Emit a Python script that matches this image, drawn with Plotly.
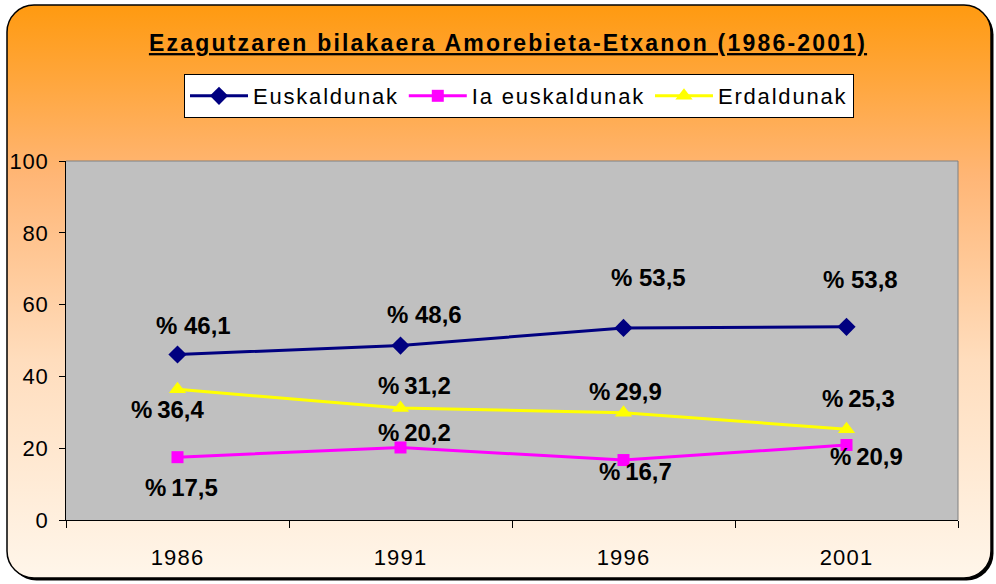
import base64
import plotly.graph_objects as go

# ---- data ----
years = ["1986", "1991", "1996", "2001"]
euskaldunak = [46.1, 48.6, 53.5, 53.8]
ia_euskaldunak = [17.5, 20.2, 16.7, 20.9]
erdaldunak = [36.4, 31.2, 29.9, 25.3]
series_names = ["Euskaldunak", "Ia euskaldunak", "Erdaldunak"]
y_ticks = [0, 20, 40, 60, 80, 100]
title_text = "Ezagutzaren bilakaera Amorebieta-Etxanon (1986-2001)"

# ---- styling ----
W, H = 996, 584
ML, MR, MT, MB = 66, 38, 161, 64
PW, PH = W - ML - MR, H - MT - MB
FONT = "Liberation Sans, Arial, sans-serif"

colors = ["#000080", "#FF00FF", "#FFFF00"]
symbols = ["diamond", "square", "triangle-up"]
msizes = [14, 12, 15]
label_prefix = ["% ", "%\u2009", "%\u2009"]
# label offsets (px) per series/point
label_shift = [
    [(16, 29), (24, 31), (25, 50), (14, 47)],
    [(4, -30), (14, 15), (12, -11), (20, -12)],
    [(-10, -20), (14, 22), (2, 21), (12, 31)],
]

def spaced(s, px):
    return f"<span style='letter-spacing:{px}px'>{s}</span>"

svg = f"""<svg xmlns='http://www.w3.org/2000/svg' width='{W}' height='{H}' viewBox='0 0 {W} {H}'>
<defs><linearGradient id='g' x1='0' y1='0' x2='0' y2='1'>
<stop offset='0' stop-color='#FF9A10'/>
<stop offset='0.3' stop-color='#FFB676'/>
<stop offset='0.62' stop-color='#FFDDBD'/>
<stop offset='1' stop-color='#FFF6EA'/>
</linearGradient></defs>
<rect x='9.5' y='7.5' width='984' height='573' rx='27' ry='27' fill='#000'/>
<rect x='7' y='5' width='984' height='573' rx='27' ry='27' fill='url(#g)' stroke='#000' stroke-width='1.5'/>
<rect x='{ML}' y='{MT}' width='{PW}' height='{PH}' fill='#C0C0C0'/>
</svg>"""
img_src = "data:image/svg+xml;base64," + base64.b64encode(svg.encode()).decode()

fig = go.Figure()
all_series = [euskaldunak, ia_euskaldunak, erdaldunak]
for i, (name, vals) in enumerate(zip(series_names, all_series)):
    fig.add_trace(go.Scatter(
        x=years, y=vals, name=spaced(name, 1.8), mode="lines+markers",
        line=dict(color=colors[i], width=3),
        marker=dict(symbol=symbols[i], size=msizes[i], color=colors[i]),
        hoverinfo="skip",
    ))

annotations = []
for i, vals in enumerate(all_series):
    for j, v in enumerate(vals):
        dx, dy = label_shift[i][j]
        annotations.append(dict(
            x=j, y=v, xref="x", yref="y",
            text="<b>" + label_prefix[i] + f"{v:.1f}".replace(".", ",") + "</b>",
            showarrow=False, xshift=dx, yshift=dy,
            xanchor="center", yanchor="middle",
            font=dict(family=FONT, size=24, color="#000"),
        ))

fig.update_layout(
    width=W, height=H,
    margin=dict(l=ML, r=MR, t=MT, b=MB, pad=0, autoexpand=False),
    paper_bgcolor="white",
    plot_bgcolor="#C0C0C0",
    font=dict(family=FONT, color="#000"),
    title=dict(
        text="<b><u>" + spaced(title_text, 2.2) + "</u></b>",
        x=508 / W, xanchor="center", y=1 - 43 / H, yanchor="middle",
        font=dict(family=FONT, size=23, color="#000"),
    ),
    showlegend=True,
    legend=dict(
        orientation="h", x=(519 - ML) / PW, xanchor="center",
        y=(520 - 74) / PH, yanchor="top",
        bgcolor="white", bordercolor="#000", borderwidth=1,
        font=dict(family=FONT, size=22, color="#000"),
        itemwidth=58,
        itemclick=False, itemdoubleclick=False,
    ),
    xaxis=dict(
        type="category", range=[-0.5, 3.5], automargin=False,
        tickvals=years, ticktext=[spaced(t, 1.2) for t in years],
        tickson="boundaries", ticks="outside", ticklen=7, tickcolor="#000",
        showline=True, linecolor="#000", linewidth=1,
        showgrid=False, zeroline=False,
        tickfont=dict(family=FONT, size=22, color="#000"),
        ticklabelstandoff=18, fixedrange=True,
    ),
    yaxis=dict(
        range=[0, 100], tickvals=y_ticks, automargin=False,
        ticktext=[spaced(str(t), 0.8) for t in y_ticks],
        ticks="outside", ticklen=6, tickcolor="#000",
        showline=True, linecolor="#000", linewidth=1,
        showgrid=False, zeroline=False,
        tickfont=dict(family=FONT, size=22, color="#000"),
        ticklabelstandoff=6, fixedrange=True,
    ),
    images=[dict(
        source=img_src, xref="paper", yref="paper",
        x=-ML / PW, y=(PH + MT) / PH, sizex=W / PW, sizey=H / PH,
        xanchor="left", yanchor="top", sizing="stretch", layer="below",
    )],
    shapes=[
        dict(type="line", xref="paper", yref="paper", x0=0, x1=1, y0=1, y1=1,
             line=dict(color="#808080", width=1), layer="above"),
        dict(type="line", xref="paper", yref="paper", x0=1, x1=1, y0=0, y1=1,
             line=dict(color="#808080", width=1), layer="above"),
    ],
    annotations=annotations,
)

fig.write_html(
    "out.html", config={"displayModeBar": False},
    post_script="document.body.style.margin='0';document.body.style.overflow='hidden';",
)
